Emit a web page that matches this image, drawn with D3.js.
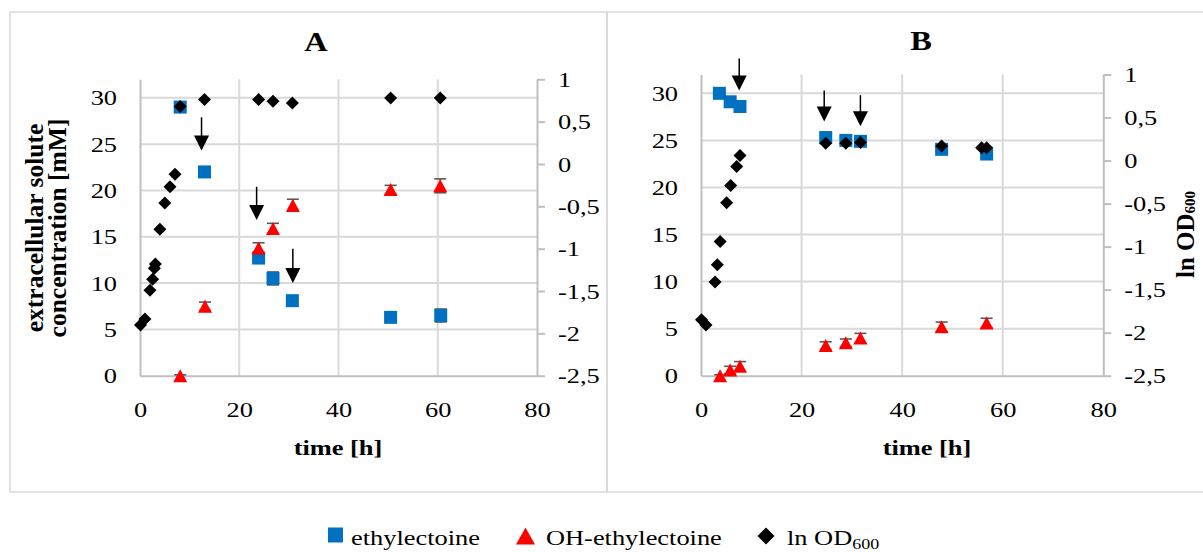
<!DOCTYPE html>
<html><head><meta charset="utf-8">
<script src="https://cdn.jsdelivr.net/npm/d3@7"></script>
<style>
body{margin:0;background:#fff}
svg{display:block}
text{font-family:"Liberation Serif","Times New Roman",serif;fill:#000}
</style>
</head><body>
<svg id="c" width="1203" height="552"></svg>
<script>
// ---------- data ----------
const seriesNames = ["ethylectoine", "OH-ethylectoine", "ln OD"];
const xTicks = [0, 20, 40, 60, 80];
const leftTicks = [0, 5, 10, 15, 20, 25, 30];
const rightTicks = [-2.5, -2, -1.5, -1, -0.5, 0, 0.5, 1];

// Panel A
const A_ethTime = [8.1, 13.0, 23.9, 26.8, 30.7, 50.5, 60.6];
const A_ethVal  = [29.0, 22.0, 12.7, 10.5, 8.1, 6.3, 6.5];
const A_ethErr  = [0.3, 0.3, 0.3, 0.7, 0.3, 0.2, 0.7];
const A_ohTime  = [8.1, 13.1, 23.9, 26.8, 30.8, 50.5, 60.5];
const A_ohVal   = [0, 7.5, 13.8, 15.9, 18.4, 20.1, 20.5];
const A_ohErr   = [0.1, 0.45, 0.55, 0.55, 0.65, 0.45, 0.75];
const A_odTime  = [0.1, 1.0, 2.0, 2.55, 2.9, 3.1, 4.0, 5.0, 6.05, 7.05, 8.1, 13.0, 23.9, 26.8, 30.7, 50.5, 60.5];
const A_odVal   = [-1.90, -1.83, -1.49, -1.36, -1.23, -1.18, -0.77, -0.46, -0.27, -0.12, 0.68, 0.76, 0.76, 0.74, 0.72, 0.78, 0.78];
const A_arrowTime = [12.4, 23.5, 30.8];
const A_arrowTop  = [27.9, 20.4, 13.7];
const A_arrowTip  = [24.3, 16.8, 10.0];

// Panel B
const B_ethTime = [3.65, 5.8, 7.75, 24.8, 28.8, 31.7, 47.85, 56.8];
const B_ethVal  = [30.0, 29.1, 28.6, 25.3, 25.0, 24.9, 24.05, 23.55];
const B_ethErr  = [0.2, 0.2, 0.2, 0.5, 0.3, 0.4, 0.3, 0.4];
const B_ohTime  = [3.8, 5.8, 7.75, 24.8, 28.8, 31.7, 47.85, 56.8];
const B_ohVal   = [0, 0.6, 1.0, 3.2, 3.5, 4.0, 5.2, 5.6];
const B_ohErr   = [0.1, 0.4, 0.5, 0.4, 0.4, 0.5, 0.5, 0.5];
const B_odTime  = [0.1, 1.0, 2.8, 3.25, 3.8, 5.1, 5.9, 7.1, 7.75, 24.8, 28.8, 31.7, 47.85, 55.8, 56.8];
const B_odVal   = [-1.85, -1.91, -1.41, -1.21, -0.94, -0.49, -0.29, -0.07, 0.06, 0.20, 0.20, 0.21, 0.17, 0.15, 0.15];
const B_arrowTime = [7.6, 24.5, 31.7];
const B_arrowTop  = [33.7, 30.3, 29.8];
const B_arrowTip  = [30.3, 27.0, 26.5];

// ---------- style ----------
const BLUE = "#0070C0", RED = "#FF0000", BLACK = "#000000";
const GRID = "#d9d9d9", AXIS = "#bfbfbf", ERR = "#595959";
const SX = 1.2; // horizontal stretch of the reference text

const svg = d3.select("#c");

function stretchText(g, x, y, str, size, weight, anchor) {
  return g.append("text")
    .attr("transform", `translate(${x},${y}) scale(${SX},1)`)
    .attr("text-anchor", anchor || "middle")
    .attr("font-size", size)
    .attr("font-weight", weight || "normal")
    .text(str);
}

const fmt = d => String(d).replace(".", ",");

function squarePath(s) { const h = s / 2; return `M${-h},${-h}H${h}V${h}H${-h}Z`; }
function triPath(w, h) { return `M0,${-h/2}L${w/2},${h/2}L${-w/2},${h/2}Z`; }
function diaPath(s) { const h = s / 2; return `M0,${-h}L${h},0L0,${h}L${-h},0Z`; }

function panel(cfg) {
  const g = svg.append("g");
  g.append("rect").attr("x", cfg.box[0]).attr("y", cfg.box[1])
    .attr("width", cfg.box[2]).attr("height", cfg.box[3])
    .attr("fill", "none").attr("stroke", GRID).attr("stroke-width", 1.5);

  const x = d3.scaleLinear().domain([0, 80]).range(cfg.xr);
  const yL = d3.scaleLinear().domain([0, 32]).range(cfg.yr);
  const yR = d3.scaleLinear().domain([-2.5, 1]).range(cfg.yr);

  // gridlines
  g.append("g").selectAll("line").data(leftTicks.filter(d => d > 0)).join("line")
    .attr("x1", cfg.xr[0]).attr("x2", cfg.xr[1])
    .attr("y1", d => yL(d)).attr("y2", d => yL(d))
    .attr("stroke", GRID).attr("stroke-width", 2);
  g.append("g").selectAll("line").data(xTicks.filter(d => d > 0 && d < 80)).join("line")
    .attr("x1", d => x(d)).attr("x2", d => x(d))
    .attr("y1", cfg.yr[0]).attr("y2", cfg.yr[1])
    .attr("stroke", GRID).attr("stroke-width", 2);

  // bottom axis
  const ax = g.append("g").attr("transform", `translate(0,${cfg.yr[0]})`)
    .call(d3.axisBottom(x).tickValues(xTicks).tickSize(0).tickSizeOuter(0).tickPadding(0));
  ax.attr("font-family", null).attr("font-size", null);
  ax.select(".domain").attr("stroke", AXIS).attr("stroke-width", 2);
  ax.selectAll("text").attr("y", 41.5).attr("dy", 0).attr("font-size", 22)
    .attr("transform", `scale(${SX},1)`);

  // left axis
  const al = g.append("g").attr("transform", `translate(${cfg.xr[0]},0)`)
    .call(d3.axisLeft(yL).tickValues(leftTicks).tickSize(0).tickSizeOuter(0));
  al.attr("font-family", null).attr("font-size", null);
  al.select(".domain").attr("stroke", AXIS).attr("stroke-width", 2);
  al.selectAll("text").attr("x", -23 / SX).attr("dy", "0.32em").attr("font-size", 22)
    .attr("transform", `scale(${SX},1)`);

  // right axis
  const ar = g.append("g").attr("transform", `translate(${cfg.xr[1]},0)`)
    .call(d3.axisRight(yR).tickValues(rightTicks).tickFormat(fmt).tickSize(8).tickSizeOuter(0));
  ar.attr("font-family", null).attr("font-size", null);
  ar.select(".domain").attr("stroke", AXIS).attr("stroke-width", 2);
  ar.selectAll(".tick line").attr("stroke", AXIS).attr("stroke-width", 2);
  ar.selectAll("text").attr("x", 21 / SX).attr("dy", "0.32em").attr("font-size", 22)
    .attr("transform", `scale(${SX},1)`);

  // titles
  stretchText(g, cfg.title[0], cfg.title[1], cfg.name, 27, "bold");
  stretchText(g, cfg.xtitle[0], cfg.xtitle[1], "time [h]", 22, "bold");

  function errBars(times, vals, errs) {
    const d = times.map((t, i) => ({ t, v: vals[i], e: errs[i] }));
    const eg = g.append("g").attr("stroke", ERR).attr("stroke-width", 1.6);
    eg.selectAll("line.s").data(d).join("line").attr("class", "s")
      .attr("x1", p => x(p.t)).attr("x2", p => x(p.t))
      .attr("y1", p => yL(p.v - p.e)).attr("y2", p => yL(p.v + p.e));
    eg.selectAll("line.t").data(d).join("line").attr("class", "t")
      .attr("x1", p => x(p.t) - 6).attr("x2", p => x(p.t) + 6)
      .attr("y1", p => yL(p.v + p.e)).attr("y2", p => yL(p.v + p.e));
    eg.selectAll("line.b").data(d.filter(p => p.v - p.e > 0)).join("line").attr("class", "b")
      .attr("x1", p => x(p.t) - 6).attr("x2", p => x(p.t) + 6)
      .attr("y1", p => yL(p.v - p.e)).attr("y2", p => yL(p.v - p.e));
  }
  errBars(cfg.ethT, cfg.ethV, cfg.ethE);
  g.append("g").selectAll("path").data(cfg.ethT.map((t, i) => [t, cfg.ethV[i]])).join("path")
    .attr("d", squarePath(13)).attr("fill", BLUE)
    .attr("transform", p => `translate(${x(p[0])},${yL(p[1])})`);
  errBars(cfg.ohT, cfg.ohV, cfg.ohE);
  g.append("g").selectAll("path").data(cfg.ohT.map((t, i) => [t, cfg.ohV[i]])).join("path")
    .attr("d", triPath(14, 13)).attr("fill", RED)
    .attr("transform", p => `translate(${x(p[0])},${yL(p[1])})`);
  g.append("g").selectAll("path").data(cfg.odT.map((t, i) => [t, cfg.odV[i]])).join("path")
    .attr("d", diaPath(13)).attr("fill", BLACK)
    .attr("transform", p => `translate(${x(p[0])},${yR(p[1])})`);

  // arrows
  const arr = cfg.arT.map((t, i) => ({ t, top: cfg.arTop[i], tip: cfg.arTip[i] }));
  const ag = g.append("g");
  ag.selectAll("line").data(arr).join("line")
    .attr("x1", a => x(a.t)).attr("x2", a => x(a.t))
    .attr("y1", a => yL(a.top)).attr("y2", a => yL(a.tip) - 12)
    .attr("stroke", BLACK).attr("stroke-width", 1.5);
  ag.selectAll("path").data(arr).join("path")
    .attr("d", a => {
      const cx = x(a.t), ty = yL(a.tip);
      return `M${cx},${ty}L${cx - 7.5},${ty - 15}L${cx + 7.5},${ty - 15}Z`;
    })
    .attr("fill", BLACK);

  return { g, x, yL, yR };
}

// Panel A
const pA = panel({
  name: "A", box: [10, 12, 597, 480], xr: [140, 537], yr: [375.7, 79.3],
  title: [316, 51], xtitle: [338, 455],
  ethT: A_ethTime, ethV: A_ethVal, ethE: A_ethErr,
  ohT: A_ohTime, ohV: A_ohVal, ohE: A_ohErr,
  odT: A_odTime, odV: A_odVal,
  arT: A_arrowTime, arTop: A_arrowTop, arTip: A_arrowTip
});
pA.g.append("text").attr("font-size", 25.5).attr("font-weight", "bold")
  .attr("text-anchor", "middle").attr("transform", "translate(43,228) rotate(-90)")
  .text("extracellular solute");
pA.g.append("text").attr("font-size", 25.5).attr("font-weight", "bold")
  .attr("text-anchor", "middle").attr("transform", "translate(66,228) rotate(-90)")
  .text("concentration [mM]");

// Panel B
const pB = panel({
  name: "B", box: [607, 12, 610, 480], xr: [701, 1103.3], yr: [375.7, 74.5],
  title: [921, 50], xtitle: [927, 455],
  ethT: B_ethTime, ethV: B_ethVal, ethE: B_ethErr,
  ohT: B_ohTime, ohV: B_ohVal, ohE: B_ohErr,
  odT: B_odTime, odV: B_odVal,
  arT: B_arrowTime, arTop: B_arrowTop, arTip: B_arrowTip
});
const rt = pB.g.append("text").attr("font-size", 25).attr("font-weight", "bold")
  .attr("text-anchor", "start").attr("transform", "translate(1194,278) rotate(-90)");
rt.append("tspan").text("ln OD");
rt.append("tspan").attr("font-size", 15).attr("dy", 1).text("600");

// ---------- legend ----------
const legend = svg.append("g");
const legendX = [328, 516, 757];
const legendTextX = [351, 546, 787];
const legY = 535;
legend.append("path").attr("d", squarePath(15)).attr("fill", BLUE)
  .attr("transform", `translate(${legendX[0] + 7.5},${legY})`);
legend.append("path").attr("d", triPath(19, 17)).attr("fill", RED)
  .attr("transform", `translate(${legendX[1] + 9.5},${legY + 1})`);
legend.append("path").attr("d", diaPath(17)).attr("fill", BLACK)
  .attr("transform", `translate(${legendX[2] + 9},${legY + 1})`);
stretchText(legend, legendTextX[0], 545, seriesNames[0], 22, "normal", "start");
stretchText(legend, legendTextX[1], 545, seriesNames[1], 22, "normal", "start");
const lt = stretchText(legend, legendTextX[2], 545, seriesNames[2], 22, "normal", "start");
lt.append("tspan").attr("font-size", 15).attr("dy", 4).text("600");
</script>
</body></html>
